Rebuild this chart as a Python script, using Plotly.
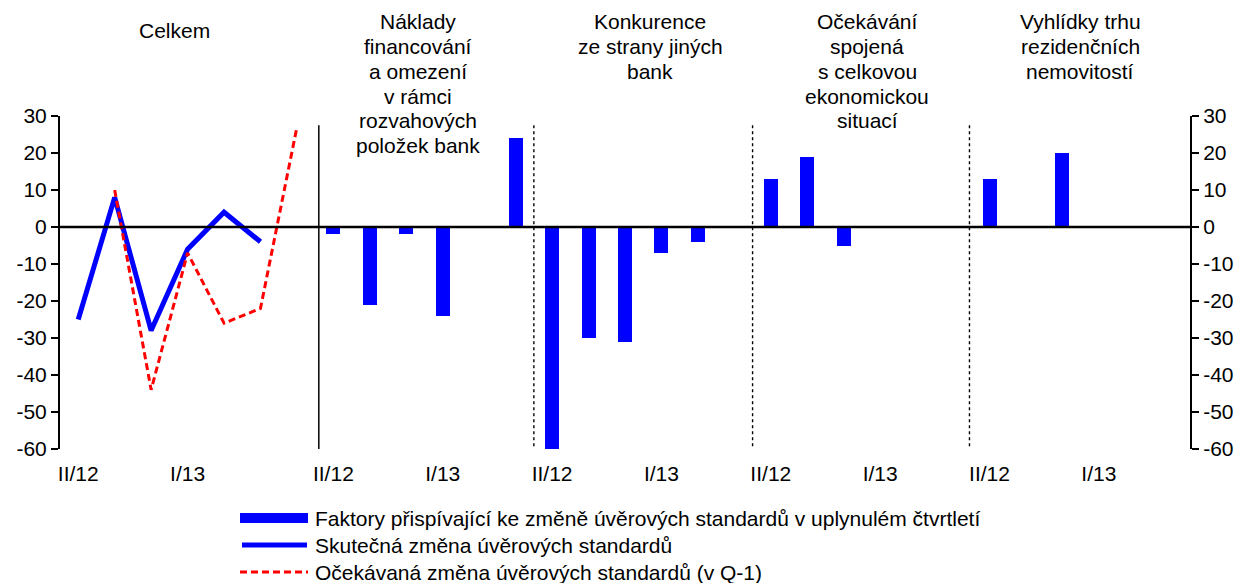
import plotly.graph_objects as go

# ---- data ----
group_titles = [
    ["Celkem"],
    ["Náklady", "financování", "a omezení", "v rámci", "rozvahových", "položek bank"],
    ["Konkurence", "ze strany jiných", "bank"],
    ["Očekávání", "spojená", "s celkovou", "ekonomickou", "situací"],
    ["Vyhlídky trhu", "rezidenčních", "nemovitostí"],
]
quarters_total = ["II/12", "III/12", "IV/12", "I/13", "II/13", "III/13", "IV/13"]
quarters_factor = ["II/12", "III/12", "IV/12", "I/13", "II/13", "III/13"]
shown_ticks = ["II/12", "I/13"]

actual_change = [-25, 8, -28, -6, 4, -4, None]
expected_change = [None, 10, -44, -7, -26, -22, 27]

funding_costs = [-2, -21, -2, -24, None, 24]
competition = [-60, -30, -31, -7, -4, None]
economic_outlook = [13, 19, -5, None, None, None]
housing_outlook = [13, None, 20, None, None, None]

legend_labels = [
    "Faktory přispívající ke změně úvěrových standardů v uplynulém čtvrtletí",
    "Skutečná změna úvěrových standardů",
    "Očekávaná změna úvěrových standardů (v Q-1)",
]

y_ticks = list(range(-60, 31, 10))
y_ticktext = [str(v) for v in y_ticks]  # plain hyphen minus

# ---- positions from group layout ----
factor_series = [funding_costs, competition, economic_outlook, housing_outlook]
x_total = list(range(len(quarters_total)))
group_starts = []
start = len(quarters_total)
for s in factor_series:
    group_starts.append(start)
    start += len(quarters_factor)
n_slots = start

BLUE = "#0000FF"
RED = "#FF0000"
FONT = "Liberation Sans, Arial, sans-serif"
FS = 21

# pixel frame of the plot area
W, H = 1238, 583
plot_l, plot_r, plot_t, plot_b = 60, 1190, 116, 449

fig = go.Figure()

bar_x, bar_y = [], []
for gs, s in zip(group_starts, factor_series):
    for i, v in enumerate(s):
        bar_x.append(gs + i)
        bar_y.append(v)

fig.add_trace(go.Bar(x=bar_x, y=bar_y, marker=dict(color=BLUE, line=dict(width=0)),
                     width=0.385, showlegend=False, name=legend_labels[0]))
fig.add_trace(go.Scatter(x=x_total, y=actual_change, mode="lines",
                         line=dict(color=BLUE, width=5), showlegend=False,
                         name=legend_labels[1]))
fig.add_trace(go.Scatter(x=x_total, y=expected_change, mode="lines",
                         line=dict(color=RED, width=3, dash="7px,4px"), showlegend=False,
                         name=legend_labels[2]))
# invisible trace for right axis
fig.add_trace(go.Scatter(x=[0], y=[0], yaxis="y2", mode="markers",
                         marker=dict(opacity=0), showlegend=False, hoverinfo="skip"))

# tick positions
tickvals, ticktext = [], []
for i, q in enumerate(quarters_total):
    if q in shown_ticks:
        tickvals.append(i); ticktext.append(q)
for gs in group_starts:
    for i, q in enumerate(quarters_factor):
        if q in shown_ticks:
            tickvals.append(gs + i); ticktext.append(q)

def px_x(p): return (p - plot_l) / (plot_r - plot_l)
def px_y(p): return 1 - (p - plot_t) / (plot_b - plot_t)
slot_w = (plot_r - plot_l) / n_slots
def data_x(p): return (p - plot_l) / slot_w - 0.5

shapes = []
# zero line
shapes.append(dict(type="line", xref="paper", yref="y", x0=0, x1=1, y0=0, y1=0,
                   line=dict(color="black", width=2.5), layer="above"))
# separators
sep_offsets = [0.1, 0, 0, -0.05]
for k, gs in enumerate(group_starts):
    xs = gs - 0.5 + sep_offsets[k]
    shapes.append(dict(type="line", xref="x", yref="y", x0=xs, x1=xs,
                       y0=27.5, y1=-60,
                       line=dict(color="black", width=1.5 if k == 0 else 1.4,
                                 dash="solid" if k == 0 else "dot")))

annotations = []
# group titles, line by line
title_centers_px = [174, 418, 650, 867, 1080]
line_step = 24.7
for lines, cx in zip(group_titles, title_centers_px):
    y0 = 30 if len(lines) == 1 else 22
    for j, ln in enumerate(lines):
        annotations.append(dict(text=ln, x=data_x(cx), xref="x",
                                y=px_y(y0 + j * line_step), yref="paper",
                                yanchor="middle", xanchor="center", showarrow=False,
                                font=dict(size=FS, color="black", family=FONT)))

# manual legend
leg_rows = [518, 545, 572]
shapes.append(dict(type="rect", xref="paper", yref="paper",
                   x0=px_x(240), x1=px_x(308), y0=px_y(513), y1=px_y(523),
                   fillcolor=BLUE, line=dict(width=0)))
shapes.append(dict(type="line", xref="paper", yref="paper",
                   x0=px_x(242), x1=px_x(307), y0=px_y(leg_rows[1]), y1=px_y(leg_rows[1]),
                   line=dict(color=BLUE, width=5)))
shapes.append(dict(type="line", xref="paper", yref="paper",
                   x0=px_x(240), x1=px_x(308), y0=px_y(leg_rows[2]), y1=px_y(leg_rows[2]),
                   line=dict(color=RED, width=3, dash="7px,4px")))
for lbl, r in zip(legend_labels, leg_rows):
    annotations.append(dict(text=lbl, x=px_x(313), xref="paper", y=px_y(r), yref="paper",
                            xanchor="left", yanchor="middle", showarrow=False,
                            font=dict(size=FS, color="black", family=FONT)))

axis_common = dict(range=[-60, 30], tickvals=y_ticks, ticktext=y_ticktext,
                   showgrid=False, zeroline=False,
                   showline=True, linecolor="black", linewidth=2, ticks="outside",
                   ticklen=7, tickwidth=1.5, tickcolor="black",
                   tickfont=dict(size=FS, color="black", family=FONT))

fig.update_layout(
    width=W, height=H,
    margin=dict(l=plot_l, r=W - plot_r, t=plot_t, b=H - plot_b),
    paper_bgcolor="white", plot_bgcolor="white",
    font=dict(family=FONT, color="black"),
    bargap=0,
    hovermode=False,
    xaxis=dict(range=[-0.5, n_slots - 0.5], tickvals=tickvals, ticktext=ticktext,
               showgrid=False, zeroline=False, showline=False, ticks="",
               tickfont=dict(size=FS, color="black", family=FONT), ticklabelstandoff=10),
    yaxis=dict(**axis_common, side="left", automargin=False),
    yaxis2=dict(**axis_common, side="right", overlaying="y", automargin=False),
    shapes=shapes, annotations=annotations,
)

fig.write_html("out.html", config={"displayModeBar": False},
               post_script="document.body.style.margin='0';")
